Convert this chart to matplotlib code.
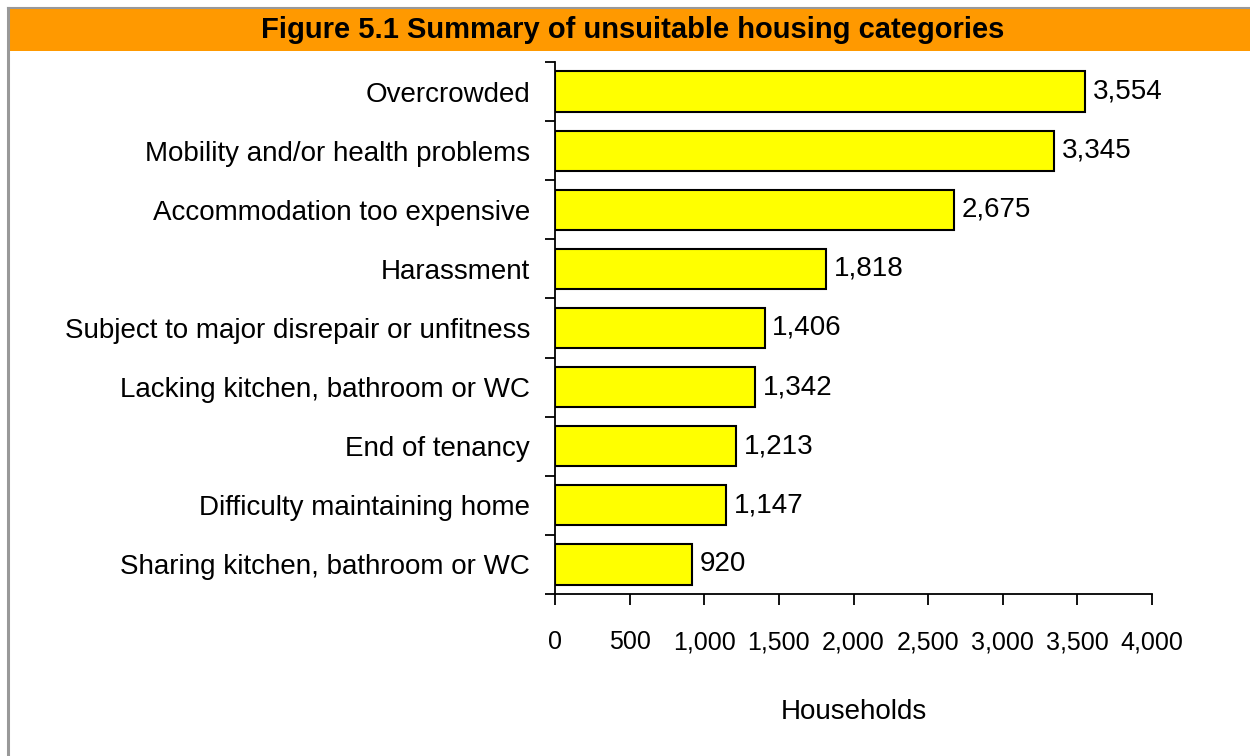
import matplotlib
matplotlib.use("Agg")
import matplotlib.pyplot as plt
from matplotlib.patches import Rectangle
from matplotlib.lines import Line2D
import numpy as np

categories = ["Overcrowded", "Mobility and/or health problems", "Accommodation too expensive",
              "Harassment", "Subject to major disrepair or unfitness", "Lacking kitchen, bathroom or WC",
              "End of tenancy", "Difficulty maintaining home", "Sharing kitchen, bathroom or WC"]
values = [3554, 3345, 2675, 1818, 1406, 1342, 1213, 1147, 920]
xticks = [0, 500, 1000, 1500, 2000, 2500, 3000, 3500, 4000]
title = "Figure 5.1 Summary of unsuitable housing categories"
xlabel = "Households"

FONT = "Liberation Sans"
FS = 20

W, H = 1250, 756
fig = plt.figure(figsize=(W/100, H/100), dpi=100)
fig.patch.set_facecolor("white")

# border lines and banner
fig.add_artist(Line2D([8/W, 8/W], [0, 1 - 8/H], color="#999999", lw=2.2, transform=fig.transFigure))
fig.add_artist(Line2D([8/W, 1], [1 - 8/H, 1 - 8/H], color="#999999", lw=1.5, transform=fig.transFigure))
fig.add_artist(Rectangle((9/W, 1 - 51/H), 1 - 9/W, 42/H, facecolor="#FF9900", edgecolor="none",
                         transform=fig.transFigure))
fig.text(633/W, 1 - 30/H, title, ha="center", va="center", fontsize=21, fontweight="bold",
         family=FONT, color="black")

ax = fig.add_axes([555/W, 1 - 594/H, (1152 - 555)/W, (594 - 62)/H])
n = len(categories)
y = np.arange(n)
ax.barh(y, values, height=0.68, color="#FFFF00", edgecolor="black", linewidth=1.5)
ax.set_ylim(n - 0.5, -0.5)
ax.set_xlim(0, 4000)

for yi, v in zip(y, values):
    ax.text(v + 50, yi, f"{v:,}", va="center", ha="left", fontsize=FS, family=FONT)

ax.set_yticks(y)
ax.set_yticklabels(categories, fontsize=FS, family=FONT)
ax.tick_params(axis="y", which="major", length=0, pad=18)
ax.set_yticks(np.arange(-0.5, n, 1), minor=True)
ax.tick_params(axis="y", which="minor", length=7, width=1.3, direction="out")

ax.set_xticks(xticks)
ax.set_xticklabels([f"{t:,}" for t in xticks], fontsize=18, family=FONT)
ax.tick_params(axis="x", length=8, width=1.3, direction="out", pad=18)
ax.set_xlabel(xlabel, fontsize=FS, family=FONT, labelpad=32)

for s in ["top", "right"]:
    ax.spines[s].set_visible(False)
for s in ["left", "bottom"]:
    ax.spines[s].set_linewidth(1.3)

fig.savefig("out.png", dpi=100)
